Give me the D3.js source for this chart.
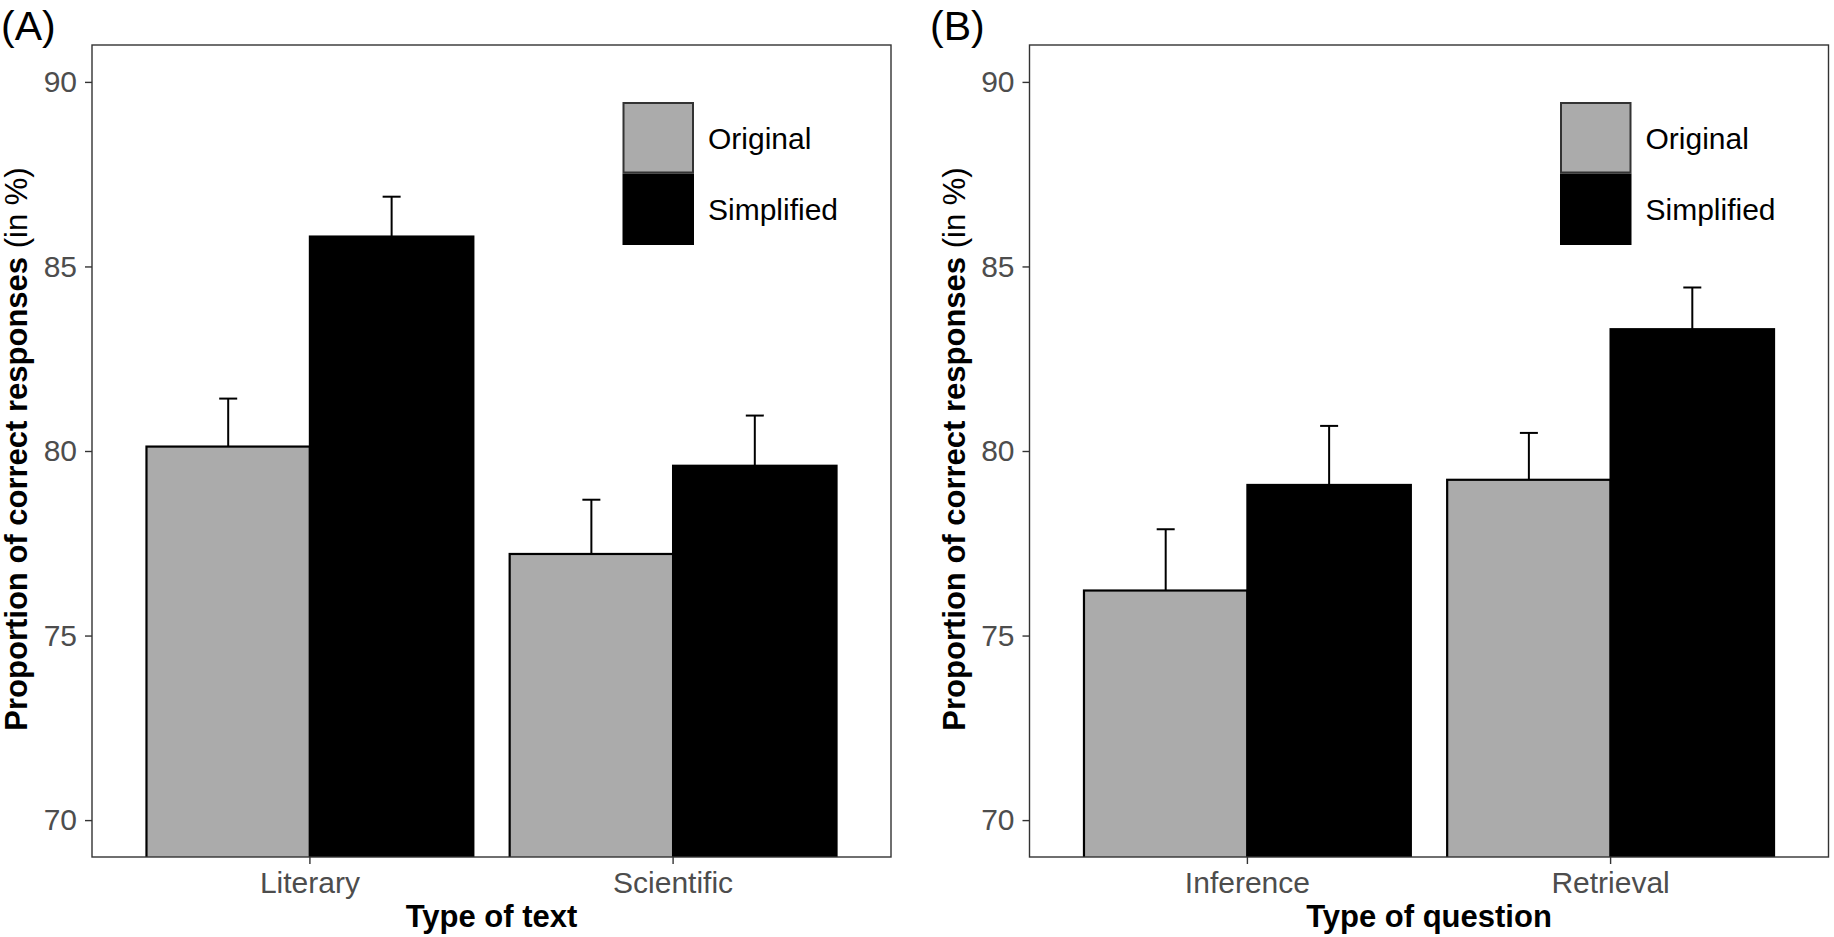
<!DOCTYPE html>
<html>
<head>
<meta charset="utf-8">
<script src="https://cdn.jsdelivr.net/npm/d3@7"></script>
<style>
  body { margin: 0; background: #fff; }
  text { font-family: "Liberation Sans", Arial, Helvetica, sans-serif; }
</style>
</head>
<body>
<div id="container"></div>
<script>
// ---- data ----
const conditions = ["Original", "Simplified"];
const yTicks = [70, 75, 80, 85, 90];

const textTypes = ["Literary", "Scientific"];
const textOriginal = [80.12, 77.21];
const textOriginalSE = [1.30, 1.47];
const textSimplified = [85.81, 79.60];
const textSimplifiedSE = [1.08, 1.36];

const questionTypes = ["Inference", "Retrieval"];
const questionOriginal = [76.22, 79.22];
const questionOriginalSE = [1.66, 1.27];
const questionSimplified = [79.08, 83.30];
const questionSimplifiedSE = [1.60, 1.13];

// ---- layout ----
let w = 1834;
let h = 937;
let panelW = 799;
let panelTop = 45;
let panelBottom = 857;

let fill = d3.scaleOrdinal().domain(conditions).range(["#ababab", "#000000"]);

let viz = d3.select("#container")
  .append("svg")
    .attr("width", w)
    .attr("height", h)
    .style("background-color", "white");

function rows(cats, orig, origSE, simp, simpSE) {
  return cats.map((c, i) => ({
    cat: c,
    values: [
      {cond: "Original", mean: orig[i], se: origSE[i]},
      {cond: "Simplified", mean: simp[i], se: simpSE[i]}
    ]
  }));
}

const panels = [
  {tag: "(A)", tagX: 1, left: 92, xTitle: "Type of text",
   cats: textTypes, data: rows(textTypes, textOriginal, textOriginalSE, textSimplified, textSimplifiedSE)},
  {tag: "(B)", tagX: 930, left: 1029.5, xTitle: "Type of question",
   cats: questionTypes, data: rows(questionTypes, questionOriginal, questionOriginalSE, questionSimplified, questionSimplifiedSE)}
];

let y = d3.scaleLinear().domain([69, 91]).range([panelBottom, panelTop]);

panels.forEach(p => {
  let g = viz.append("g");

  let x = d3.scaleBand()
    .domain(p.cats)
    .range([p.left, p.left + panelW])
    .paddingInner(0.1)
    .paddingOuter(0.15);

  let xSub = d3.scaleBand()
    .domain(conditions)
    .range([0, x.bandwidth()]);

  // clip so bars stop at the panel edge
  let clipId = "clip" + p.tag.replace(/\W/g, "");
  viz.append("clipPath").attr("id", clipId)
    .append("rect")
      .attr("x", p.left).attr("y", panelTop)
      .attr("width", panelW).attr("height", panelBottom - panelTop);

  let plot = g.append("g").attr("clip-path", "url(#" + clipId + ")");

  let groups = plot.selectAll("g.grp")
    .data(p.data)
    .join("g")
      .attr("class", "grp")
      .attr("transform", d => "translate(" + x(d.cat) + ",0)");

  // error bars (upper half only, as in the original)
  groups.selectAll("g.err")
    .data(d => d.values)
    .join("g")
      .attr("class", "err")
      .each(function(d){
        let cx = xSub(d.cond) + xSub.bandwidth() / 2;
        let sel = d3.select(this);
        sel.append("line")
          .attr("x1", cx).attr("x2", cx)
          .attr("y1", y(d.mean)).attr("y2", y(d.mean + d.se))
          .attr("stroke", "#000").attr("stroke-width", 2);
        sel.append("line")
          .attr("x1", cx - 9).attr("x2", cx + 9)
          .attr("y1", y(d.mean + d.se)).attr("y2", y(d.mean + d.se))
          .attr("stroke", "#000").attr("stroke-width", 2);
      });

  groups.selectAll("rect")
    .data(d => d.values)
    .join("rect")
      .attr("x", d => xSub(d.cond))
      .attr("width", xSub.bandwidth())
      .attr("y", d => y(d.mean))
      .attr("height", d => y(69) - y(d.mean) + 4)
      .attr("fill", d => fill(d.cond))
      .attr("stroke", "#000")
      .attr("stroke-width", 2.2);

  // panel border
  g.append("rect")
    .attr("x", p.left).attr("y", panelTop)
    .attr("width", panelW).attr("height", panelBottom - panelTop)
    .attr("fill", "none")
    .attr("stroke", "#333")
    .attr("stroke-width", 1.4);

  // axes
  let yAxis = g.append("g")
    .attr("transform", "translate(" + p.left + ",0)")
    .call(d3.axisLeft(y).tickValues(yTicks).tickSize(7).tickPadding(8));
  let xAxis = g.append("g")
    .attr("transform", "translate(0," + panelBottom + ")")
    .call(d3.axisBottom(x).tickSize(7).tickPadding(8));

  [yAxis, xAxis].forEach(a => {
    a.select(".domain").remove();
    a.selectAll(".tick line").attr("stroke", "#333").attr("stroke-width", 1.4);
    a.selectAll(".tick text")
      .attr("fill", "#4d4d4d")
      .style("font-size", "30px")
      .style("font-family", "'Liberation Sans', Arial, sans-serif");
  });

  // axis titles
  g.append("text")
    .attr("x", p.left + panelW / 2)
    .attr("y", 927)
    .attr("text-anchor", "middle")
    .style("font-size", "31px")
    .style("font-weight", "bold")
    .text(p.xTitle);

  let yt = g.append("text")
    .attr("transform", "translate(" + (p.left - 65) + "," + ((panelTop + panelBottom) / 2 - 2) + ") rotate(-90)")
    .attr("text-anchor", "middle")
    .style("font-size", "31px");
  yt.append("tspan").style("font-weight", "bold").text("Proportion of correct responses");
  yt.append("tspan").text(" (in %)");

  // panel tag
  g.append("text")
    .attr("x", p.tagX)
    .attr("y", 40)
    .style("font-size", "41px")
    .text(p.tag);

  // legend
  let keyX = p.left + 530.5;
  let keyY = 102;
  let keySize = 71.5;
  let legend = g.append("g");
  conditions.forEach((c, i) => {
    let ky = keyY + i * keySize;
    legend.append("rect")
      .attr("x", keyX + (i == 0 ? 1 : 0))
      .attr("y", ky + (i == 0 ? 1 : 0))
      .attr("width", keySize - (i == 0 ? 2 : 0))
      .attr("height", keySize - (i == 0 ? 2 : 0))
      .attr("fill", fill(c))
      .attr("stroke", i == 0 ? "#333" : "none")
      .attr("stroke-width", 2);
    legend.append("text")
      .attr("x", keyX + keySize + 14)
      .attr("y", ky + keySize / 2 + 11)
      .style("font-size", "30px")
      .attr("fill", "#000")
      .text(c);
  });
});
</script>
</body>
</html>
